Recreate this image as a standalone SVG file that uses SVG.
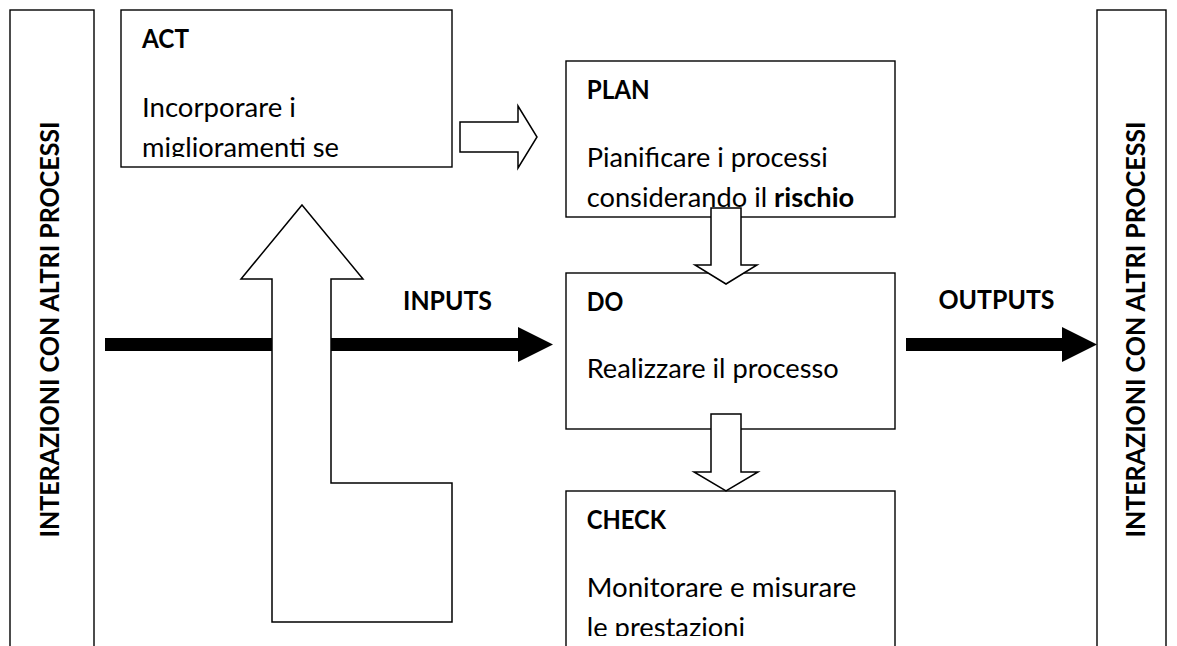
<svg xmlns="http://www.w3.org/2000/svg" width="1177" height="646" viewBox="0 0 1177 646">
  <style>
    .box { fill: #ffffff; stroke: #000000; stroke-width: 1.4; }
    .hollow { fill: #ffffff; stroke: #000000; stroke-width: 1.5; stroke-linejoin: miter; }
    .solid { fill: #000000; stroke: none; }
    .hd { font-family: Lato, "Open Sans", sans-serif; font-weight: 700; font-size: 26.5px; fill: #000000; }
    .tx { font-family: Lato, "Open Sans", sans-serif; font-weight: 400; font-size: 26.5px; fill: #000000; }
    .b { font-weight: 700; }
  </style>
  <defs>
    <clipPath id="clipAct"><rect x="121" y="10" width="331" height="147"/></clipPath>
    <clipPath id="clipCheck"><rect x="566" y="491" width="329" height="145"/></clipPath>
  </defs>
  <rect width="1177" height="646" fill="#ffffff"/>

  <g id="node-left">
    <rect class="box" x="10" y="10" width="84" height="660"/>
    <text class="hd" transform="translate(58.5,329.5) rotate(-90)" text-anchor="middle" textLength="416" lengthAdjust="spacingAndGlyphs">INTERAZIONI CON ALTRI PROCESSI</text>
  </g>

  <g id="node-right">
    <rect class="box" x="1097" y="10" width="69" height="660"/>
    <text class="hd" transform="translate(1145,329.5) rotate(-90)" text-anchor="middle" textLength="416" lengthAdjust="spacingAndGlyphs">INTERAZIONI CON ALTRI PROCESSI</text>
  </g>

  <g id="node-act">
    <rect class="box" x="121" y="10" width="331" height="157"/>
    <text class="hd" x="142" y="48.3" textLength="47" lengthAdjust="spacingAndGlyphs">ACT</text>
    <g clip-path="url(#clipAct)">
      <text class="tx" x="142" y="117.3" textLength="154" lengthAdjust="spacingAndGlyphs">Incorporare i</text>
      <text class="tx" x="142" y="157.3" textLength="197" lengthAdjust="spacingAndGlyphs">miglioramenti se</text>
    </g>
  </g>

  <g id="node-plan">
    <rect class="box" x="566" y="61" width="329" height="156"/>
    <text class="hd" x="586.7" y="99" textLength="63" lengthAdjust="spacingAndGlyphs">PLAN</text>
    <text class="tx" x="586.7" y="166.7" textLength="241" lengthAdjust="spacingAndGlyphs">Pianificare i processi</text>
    <text class="tx" x="586.7" y="206.7" textLength="267.5" lengthAdjust="spacingAndGlyphs">considerando il <tspan class="b">rischio</tspan></text>
  </g>

  <g id="node-do">
    <rect class="box" x="566" y="273" width="329" height="156"/>
    <text class="hd" x="586.7" y="310.5" textLength="36.6" lengthAdjust="spacingAndGlyphs">DO</text>
    <text class="tx" x="586.7" y="378.3" textLength="252" lengthAdjust="spacingAndGlyphs">Realizzare il processo</text>
  </g>

  <g id="node-check">
    <rect class="box" x="566" y="491" width="329" height="180"/>
    <text class="hd" x="586.7" y="529.3" textLength="79.3" lengthAdjust="spacingAndGlyphs">CHECK</text>
    <g clip-path="url(#clipCheck)">
      <text class="tx" x="586.7" y="597.3" textLength="269.6" lengthAdjust="spacingAndGlyphs">Monitorare e misurare</text>
      <text class="tx" x="586.7" y="637.3" textLength="158.5" lengthAdjust="spacingAndGlyphs">le prestazioni</text>
    </g>
  </g>

  <g id="connectors">
    <g id="inputs">
      <polygon class="solid" points="105,338 518,338 518,327 553,344.5 518,362 518,351 105,351"/>
      <text class="hd" x="403" y="310" textLength="89" lengthAdjust="spacingAndGlyphs">INPUTS</text>
    </g>
    <g id="outputs">
      <polygon class="solid" points="906,338 1062,338 1062,327 1097,344.5 1062,362 1062,351 906,351"/>
      <text class="hd" x="938.5" y="308.5" textLength="116" lengthAdjust="spacingAndGlyphs">OUTPUTS</text>
    </g>
    <polygon id="check-to-act" class="hollow" points="302,205 363,279 331,279 331,483 452,483 452,622 272,622 272,279 241,279"/>
    <polygon id="act-to-plan" class="hollow" points="460,122 518,122 518,106 537,137 518,168 518,152 460,152"/>
    <polygon id="plan-to-do" class="hollow" points="711,208 741,208 741,265 757,265 726,284 695,265 711,265"/>
    <polygon id="do-to-check" class="hollow" points="711,414 741,414 741,472 758,472 726,491 694,472 711,472"/>
  </g>
</svg>
